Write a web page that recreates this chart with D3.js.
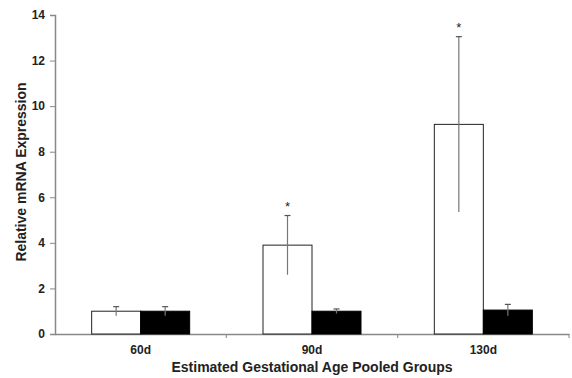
<!DOCTYPE html>
<html><head><meta charset="utf-8">
<script src="https://cdn.jsdelivr.net/npm/d3@7"></script>
<style>body{margin:0;background:#fff}svg{display:block}</style>
</head><body>
<script>
const categories = ["60d", "90d", "130d"];
const seriesNames = ["Group A", "Group B"];
const valuesA = [1.0, 3.9, 9.2];
const errorsA = [0.2, 1.3, 3.85];
const valuesB = [1.0, 1.0, 1.05];
const errorsB = [0.2, 0.1, 0.25];
const significant = [false, true, true];
const yTicks = [0, 2, 4, 6, 8, 10, 12, 14];

const W = 572, H = 378;
const m = {l: 55, r: 3, t: 15, b: 44};
const svg = d3.select("body").append("svg").attr("width", W).attr("height", H);
const x = d3.scaleBand().domain(categories).range([m.l, W - m.r]).paddingInner(0).paddingOuter(0);
const y = d3.scaleLinear().domain([0, 14]).range([H - m.b, m.t]);
const bw = x.bandwidth() * 0.286;
const font = "Liberation Sans, Arial, sans-serif";
const axisCol = "#888";

// y axis
const ya = svg.append("g").attr("transform", `translate(${m.l},0)`)
  .call(d3.axisLeft(y).tickValues(yTicks).tickSize(5).tickPadding(5));
ya.select(".domain").attr("stroke", axisCol).attr("stroke-width", 1.5);
ya.selectAll(".tick line").attr("stroke", axisCol);
ya.selectAll("text").attr("font-family", font).attr("font-size", 12).attr("font-weight", "bold").attr("fill", "#222");

// x axis
const xa = svg.append("g").attr("transform", `translate(0,${y(0)})`)
  .call(d3.axisBottom(x).tickSize(0).tickPadding(11));
xa.select(".domain").attr("stroke", axisCol).attr("stroke-width", 1.5);
xa.selectAll("text").attr("font-family", font).attr("font-size", 12).attr("font-weight", "bold").attr("fill", "#222");
// boundary ticks
const bounds = categories.map(c => x(c) + x.bandwidth());
svg.append("g").selectAll("line").data(bounds).join("line")
  .attr("x1", d => d).attr("x2", d => d).attr("y1", y(0)).attr("y2", y(0) + 4)
  .attr("stroke", axisCol);

const data = categories.map((c, i) => ({c, i, a: valuesA[i], ea: errorsA[i], b: valuesB[i], eb: errorsB[i], s: significant[i]}));
const g = svg.append("g");
const cx = c => x(c) + x.bandwidth() / 2;

// bars A (white)
g.selectAll(".ba").data(data).join("rect")
  .attr("x", d => cx(d.c) - bw).attr("width", bw)
  .attr("y", d => y(d.a)).attr("height", d => y(0) - y(d.a))
  .attr("fill", "#fff").attr("stroke", "#222").attr("stroke-width", 1);
// bars B (black)
g.selectAll(".bb").data(data).join("rect")
  .attr("x", d => cx(d.c)).attr("width", bw)
  .attr("y", d => y(d.b)).attr("height", d => y(0) - y(d.b))
  .attr("fill", "#000").attr("stroke", "#000").attr("stroke-width", 1);

function errBar(xc, v, e) {
  g.append("line").attr("x1", xc).attr("x2", xc).attr("y1", y(v + e)).attr("y2", y(v - e))
    .attr("stroke", "#777").attr("stroke-width", 1.2);
  g.append("line").attr("x1", xc - 3).attr("x2", xc + 3).attr("y1", y(v + e)).attr("y2", y(v + e))
    .attr("stroke", "#555").attr("stroke-width", 1.2);
}
data.forEach(d => {
  errBar(cx(d.c) - bw / 2, d.a, d.ea);
  errBar(cx(d.c) + bw / 2, d.b, d.eb);
  if (d.s) {
    g.append("text").attr("x", cx(d.c) - bw / 2).attr("y", y(d.a + d.ea) - 5)
      .attr("text-anchor", "middle").attr("font-family", font).attr("font-size", 13)
      .attr("fill", "#222").text("*");
  }
});

// axis titles
svg.append("text").attr("x", (m.l + W - m.r) / 2).attr("y", 372)
  .attr("text-anchor", "middle").attr("font-family", font).attr("font-size", 14)
  .attr("font-weight", "bold").attr("fill", "#222").text("Estimated Gestational Age Pooled Groups");
svg.append("text").attr("transform", `translate(26,172) rotate(-90)`)
  .attr("text-anchor", "middle").attr("font-family", font).attr("font-size", 14)
  .attr("font-weight", "bold").attr("fill", "#222").text("Relative mRNA Expression");
</script>
</body></html>
